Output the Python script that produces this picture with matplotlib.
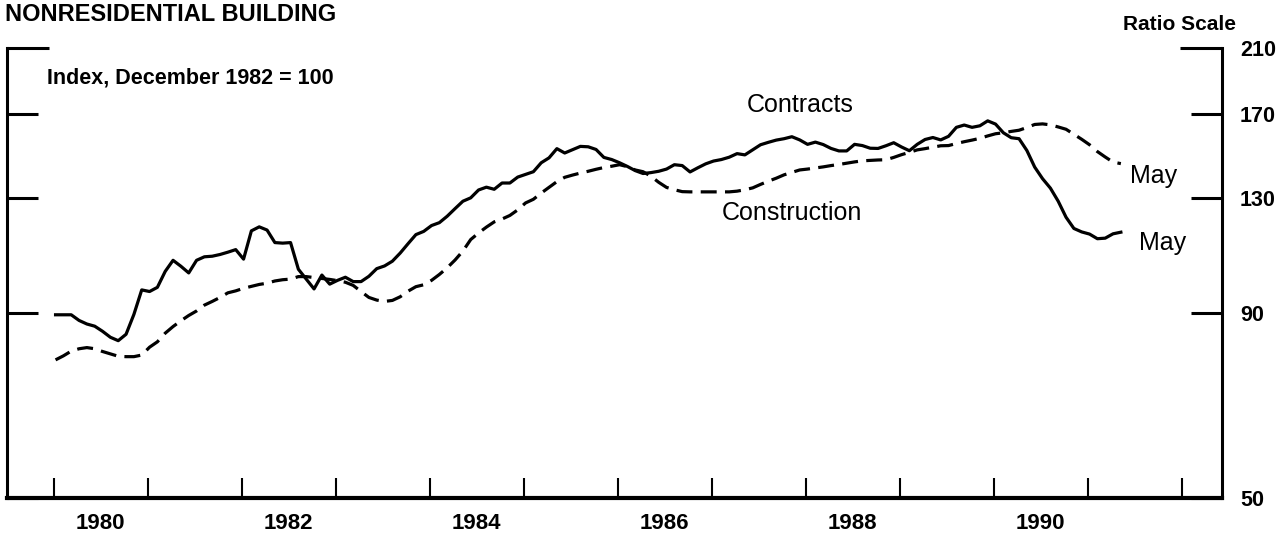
import numpy as np
import matplotlib.pyplot as plt
from matplotlib.ticker import FixedLocator, FixedFormatter, NullFormatter

plt.rcParams['font.family'] = ['Liberation Sans', 'DejaVu Sans']

# monthly index values, Jan 1980 - May 1991 (Dec 1982 = 100)
contracts = [
    89.6, 89.6, 89.6, 88.0, 87.0, 86.4, 85.0, 83.4, 82.5, 84.2, 89.7, 97.0,
    96.5, 97.8, 102.9, 106.6, 104.6, 102.4, 106.6, 107.8, 108.0, 108.6, 109.4, 110.3,
    107.0, 117.1, 118.6, 117.4, 112.8, 112.6, 112.8, 103.6, 100.4, 97.3, 101.7, 98.8,
    100.0, 101.0, 99.6, 99.6, 101.3, 103.8, 104.7, 106.3, 109.1, 112.4, 115.7, 116.9,
    119.1, 120.2, 122.7, 125.7, 128.7, 130.1, 133.4, 134.6, 133.7, 136.4, 136.4, 139.0,
    140.2, 141.4, 145.5, 147.8, 152.2, 150.1, 151.7, 153.3, 153.1, 151.8, 148.0, 147.0,
    145.5, 143.8, 141.9, 140.6, 141.0, 141.6, 142.6, 144.6, 144.2, 141.3, 143.2, 145.0,
    146.3, 147.0, 148.1, 149.8, 149.2, 151.6, 154.1, 155.3, 156.4, 157.1, 158.1, 156.5,
    154.3, 155.4, 154.2, 152.3, 151.1, 151.1, 154.3, 153.7, 152.4, 152.3, 153.6, 155.1,
    153.0, 151.2, 154.3, 156.7, 157.7, 156.5, 158.3, 162.9, 164.1, 162.9, 163.7, 166.3,
    164.6, 160.1, 157.6, 157.1, 151.3, 143.5, 138.3, 134.2, 128.7, 122.3, 118.0, 116.7,
    115.9, 114.2, 114.4, 116.0, 116.6,
]
construction = [
    77.6, 78.6, 79.8, 80.4, 80.7, 80.4, 79.7, 79.1, 78.5, 78.4, 78.4, 78.8,
    80.8, 82.2, 84.5, 86.3, 87.9, 89.4, 90.7, 92.4, 93.5, 94.7, 96.1, 96.7,
    97.5, 98.1, 98.7, 99.1, 99.8, 100.2, 100.4, 101.2, 101.2, 100.9, 100.6, 100.3,
    99.9, 99.4, 98.4, 96.5, 94.7, 93.9, 93.5, 93.8, 94.9, 96.6, 98.0, 98.6,
    100.0, 101.9, 104.1, 106.7, 109.8, 113.9, 116.3, 118.5, 120.5, 121.6, 123.0, 125.2,
    128.0, 129.5, 132.1, 134.5, 137.0, 138.9, 139.9, 140.8, 141.6, 142.5, 143.3, 143.9,
    144.6, 143.7, 142.2, 141.4, 139.4, 136.7, 134.5, 133.5, 132.7, 132.6, 132.6, 132.6,
    132.6, 132.6, 132.6, 132.9, 133.5, 134.3, 135.8, 137.2, 138.5, 140.0, 141.1, 142.2,
    142.6, 143.1, 143.6, 144.2, 144.7, 145.3, 145.9, 146.4, 146.6, 146.8, 146.9, 148.0,
    149.3, 150.4, 151.6, 152.2, 152.9, 153.6, 153.7, 154.7, 155.6, 156.4, 157.3, 158.5,
    159.6, 160.1, 160.8, 161.4, 162.8, 164.4, 164.7, 164.2, 163.1, 161.9, 159.3, 156.8,
    154.1, 150.8, 148.2, 145.8, 145.1,
]
year_ticks = list(range(1980, 1993))
year_labels = ['1980', '1982', '1984', '1986', '1988', '1990']
y_ticks = [50, 90, 130, 170]
y_top = 210

W, H = 1287, 536
t = 1980 + np.arange(len(contracts)) / 12 + 1 / 48

fig = plt.figure(figsize=(W / 100, H / 100), dpi=100)
ax = fig.add_axes([6.6 / W, 1 - 497.7 / H, (1222 - 6.6) / W, 450 / H])

ax.plot(t, contracts, color='black', lw=2.3, solid_joinstyle='round')
ax.plot(t, construction, color='black', lw=2.3, dashes=(5, 2.6))

ax.set_yscale('log')
ax.set_ylim(50, 210)
ax.set_xlim(1979.5, 1992.43)

ax.spines['top'].set_visible(False)
ax.spines['left'].set_linewidth(2.2)
ax.spines['right'].set_linewidth(2.2)
ax.spines['bottom'].set_linewidth(3.0)

# x axis: year boundary ticks, labels centred in even years
ax.xaxis.set_major_locator(FixedLocator(year_ticks))
ax.xaxis.set_major_formatter(NullFormatter())
ax.xaxis.set_minor_locator(FixedLocator([int(y) + 0.5 for y in year_labels]))
ax.xaxis.set_minor_formatter(FixedFormatter(year_labels))
ax.tick_params(axis='x', which='major', direction='in', length=14.5, width=1.5)
ax.tick_params(axis='x', which='minor', length=0, pad=11, labelsize=16)

# y axis: ratio scale, labels on the right
ax.yaxis.set_major_locator(FixedLocator(y_ticks))
ax.yaxis.set_major_formatter(FixedFormatter([str(v) for v in y_ticks]))
ax.yaxis.set_minor_locator(FixedLocator([y_top]))
ax.yaxis.set_minor_formatter(FixedFormatter([str(y_top)]))
ax.tick_params(axis='y', which='major', direction='in', length=22, width=2.2,
               left=True, right=True, labelleft=False, labelright=True,
               pad=13, labelsize=15.5)
ax.tick_params(axis='y', which='minor', direction='in', length=30, width=2.2,
               left=True, right=True, labelleft=False, labelright=True,
               pad=13, labelsize=15.5)
for lab in ax.get_xticklabels(minor=True) + ax.get_yticklabels() + ax.get_yticklabels(minor=True):
    lab.set_fontweight('bold')

def px(x, y):
    return x / W, 1 - y / H

fig.text(*px(5, 21), 'NONRESIDENTIAL BUILDING', fontsize=17, fontweight='bold',
         va='baseline', ha='left')
fig.text(*px(1236, 24), 'Ratio Scale', fontsize=15, fontweight='bold',
         va='center', ha='right')
fig.text(*px(47, 78), 'Index, December 1982 = 100', fontsize=15.5, fontweight='bold',
         va='center', ha='left')
fig.text(*px(747, 105), 'Contracts', fontsize=18, va='center', ha='left')
fig.text(*px(722, 213), 'Construction', fontsize=18, va='center', ha='left')
fig.text(*px(1130, 176), 'May', fontsize=18, va='center', ha='left')
fig.text(*px(1139, 243), 'May', fontsize=18, va='center', ha='left')

fig.savefig('out.png', dpi=100)
